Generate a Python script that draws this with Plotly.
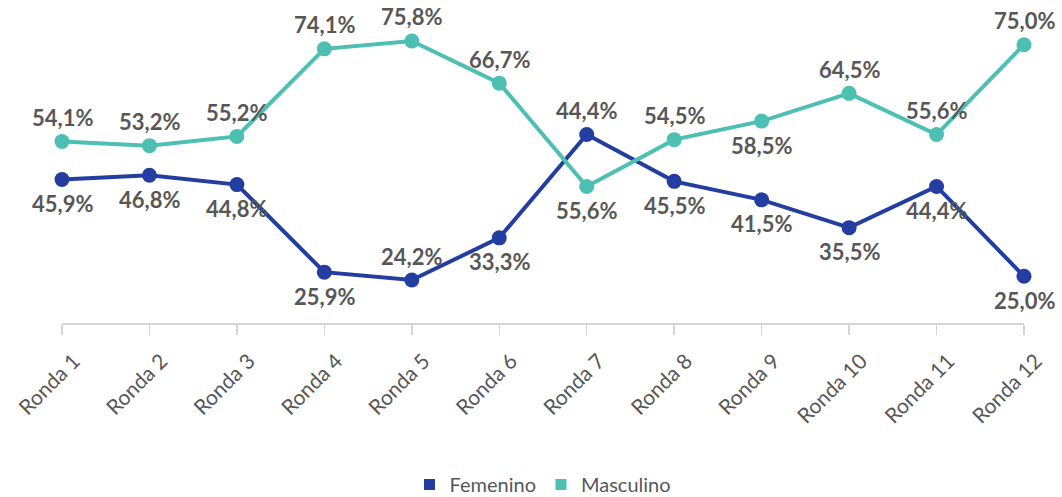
import plotly.graph_objects as go

rondas = ["Ronda 1", "Ronda 2", "Ronda 3", "Ronda 4", "Ronda 5", "Ronda 6",
          "Ronda 7", "Ronda 8", "Ronda 9", "Ronda 10", "Ronda 11", "Ronda 12"]
femenino = [45.9, 46.8, 44.8, 25.9, 24.2, 33.3, 55.6, 45.5, 41.5, 35.5, 44.4, 25.0]
masculino = [54.1, 53.2, 55.2, 74.1, 75.8, 66.7, 44.4, 54.5, 58.5, 64.5, 55.6, 75.0]
femenino_labels = ["45,9%", "46,8%", "44,8%", "25,9%", "24,2%", "33,3%",
                   "44,4%", "45,5%", "41,5%", "35,5%", "44,4%", "25,0%"]
masculino_labels = ["54,1%", "53,2%", "55,2%", "74,1%", "75,8%", "66,7%",
                    "55,6%", "54,5%", "58,5%", "64,5%", "55,6%", "75,0%"]
# label side: +1 above the point, -1 below
femenino_side = [-1, -1, -1, -1, 1, -1, 1, -1, -1, -1, -1, -1]
masculino_side = [1, 1, 1, 1, 1, 1, -1, 1, -1, 1, 1, 1]

BLUE = "#233EA0"
TEAL = "#4DBFB3"
GRAY = "#575757"
FONT = "Lato"

x = list(range(1, len(rondas) + 1))

fig = go.Figure()
for name, vals, color in [("Femenino", femenino, BLUE), ("Masculino", masculino, TEAL)]:
    fig.add_trace(go.Scatter(
        x=x, y=vals, mode="lines+markers", name=name, showlegend=False,
        line=dict(color=color, width=4),
        marker=dict(color=color, size=15),
        cliponaxis=False, hoverinfo="skip"))
for name, color in [("Femenino", BLUE), ("Masculino", TEAL)]:
    fig.add_trace(go.Scatter(
        x=[None], y=[None], mode="markers", name=name,
        marker=dict(color=color, size=11, symbol="square")))

annotations = []
for vals, labels, sides in [(femenino, femenino_labels, femenino_side),
                            (masculino, masculino_labels, masculino_side)]:
    for xi, v, t, s in zip(x, vals, labels, sides):
        annotations.append(dict(
            x=xi, y=v, text=t, showarrow=False,
            yshift=24 * s, xanchor="center", yanchor="middle",
            font=dict(family=FONT, size=22, color=GRAY, weight="bold")))

fig.update_layout(
    width=1062, height=497, autosize=False,
    margin=dict(l=62, r=38, t=20, b=174, autoexpand=False),
    paper_bgcolor="white", plot_bgcolor="white",
    annotations=annotations,
    showlegend=True,
    legend=dict(orientation="h", x=0.5, xanchor="center",
                yref="container", y=0.025, yanchor="middle",
                font=dict(family=FONT, size=20, color=GRAY),
                itemwidth=30, tracegroupgap=0),
    xaxis=dict(range=[1, 12], tickmode="array", tickvals=x, ticktext=rondas,
               tickangle=-45, showgrid=False, zeroline=False, automargin=False,
               showline=True, linecolor="#D3D6D9", linewidth=1.5,
               ticks="outside", ticklen=10, tickcolor="#D3D6D9", tickwidth=1.5,
               ticklabelshift=12, ticklabelstandoff=6,
               tickfont=dict(family=FONT, size=21, color=GRAY)),
    yaxis=dict(range=[14.92, 80.33], visible=False, showgrid=False, zeroline=False,
               automargin=False),
)

fig.write_html("out.html", config={"displayModeBar": False, "staticPlot": True},
               post_script="document.body.style.margin='0';document.body.style.overflow='hidden';")
